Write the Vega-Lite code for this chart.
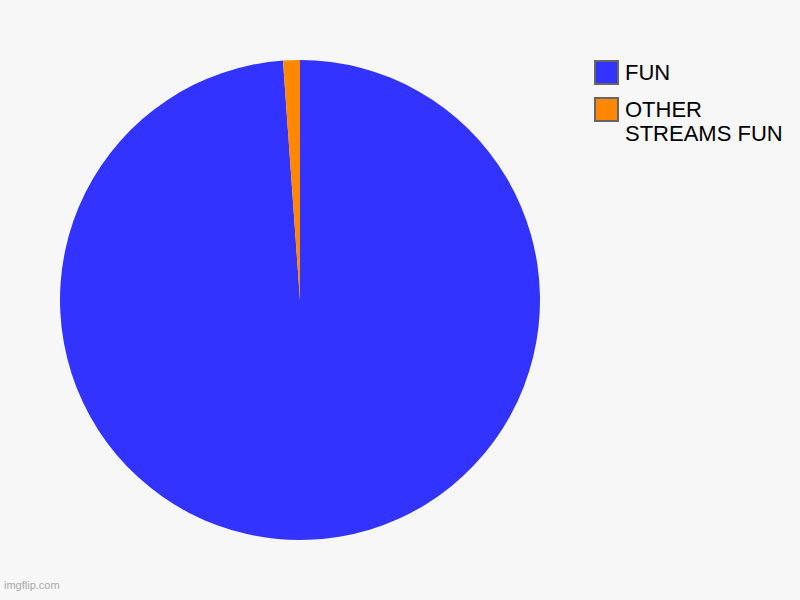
{
  "$schema": "https://vega.github.io/schema/vega-lite/v6.json",
  "width": 600,
  "height": 600,
  "autosize": {"type": "none"},
  "padding": {"left": 0, "top": 0, "right": 200, "bottom": 0},
  "background": "#f7f7f7",
  "title": {
    "text": "imgflip.com",
    "orient": "bottom",
    "anchor": "start",
    "frame": "group",
    "offset": -20,
    "dx": 4,
    "fontSize": 11,
    "fontWeight": "normal",
    "font": "Liberation Sans",
    "color": "#aaaaaa"
  },
  "data": {
    "values": [
      {"category": "FUN", "value": 98.87},
      {"category": "OTHER STREAMS FUN", "value": 1.13}
    ]
  },
  "mark": {"type": "arc", "outerRadius": 240},
  "encoding": {
    "theta": {"field": "value", "type": "quantitative", "stack": true},
    "color": {
      "field": "category",
      "type": "nominal",
      "scale": {"domain": ["FUN", "OTHER STREAMS FUN"], "range": ["#3333ff", "#ff8800"]},
      "legend": {
        "title": null,
        "orient": "none",
        "legendX": 594,
        "legendY": 60,
        "symbolType": "square",
        "symbolSize": 529,
        "symbolStrokeColor": "#666666",
        "symbolStrokeWidth": 2,
        "symbolOpacity": 1,
        "labelFont": "Liberation Sans",
        "labelFontSize": 22,
        "labelColor": "#000000",
        "labelLimit": 300,
        "labelOffset": 6,
        "rowPadding": 6,
        "labelExpr": "datum.label == 'OTHER STREAMS FUN' ? ['OTHER', 'STREAMS FUN'] : datum.label"
      }
    }
  },
  "config": {"view": {"stroke": null}}
}
